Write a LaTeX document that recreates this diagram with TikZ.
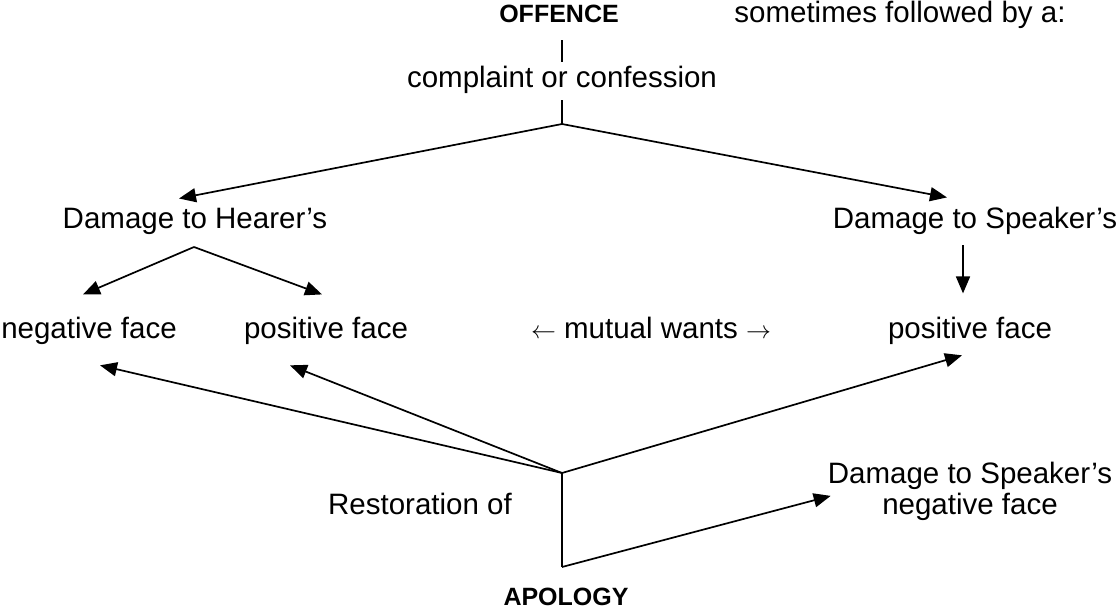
\documentclass[tikz,border=0pt]{standalone}
\usepackage{fontspec}
\setmainfont{Liberation Sans}
\usetikzlibrary{arrows.meta,calc}
\begin{document}
\begin{tikzpicture}[x=1pt,y=-1pt,
  lbl/.style={inner sep=0pt, anchor=base, font=\fontsize{29.5}{31}\selectfont},
  boldlbl/.style={lbl, font=\fontsize{25}{30}\selectfont\bfseries},
  conn/.style={line width=1.7pt},
  arr/.style={conn, -{Triangle[length=17pt,width=14pt]}},
]
\useasboundingbox (0,0) rectangle (1118,610);

% labels
\node[boldlbl] (offence) at (559,23) {OFFENCE};
\node[lbl] (follow) at (900,23) {sometimes followed by a:};
\node[lbl] (complaint) at (562,87) {complaint or confession};
\node[lbl] (dh) at (195,228) {Damage to Hearer’s};
\node[lbl] (ds) at (975,228) {Damage to Speaker’s};
\node[lbl] (hneg) at (89,338) {negative face};
\node[lbl] (hpos) at (326,338) {positive face};
\node[lbl] (mutual) at (651,338) {$\leftarrow$ mutual wants $\rightarrow$};
\node[lbl] (spos) at (970,338) {positive face};
\node[lbl] (rest) at (420,514) {Restoration of};
\node[lbl, align=center] (dsneg) at (970,514) {Damage to Speaker’s\\negative face};
\node[boldlbl] (apology) at (566,605) {APOLOGY};

% junctions
\coordinate (j1) at (562,124);
\coordinate (j2) at (194,247);
\coordinate (j3) at (562,473);
\coordinate (j4) at (562,567);

% offence -> complaint
\draw[conn] ($(offence.south)+(3,17)$) -- ($(complaint.north)+(0,-3)$);
% complaint -> branches
\draw[conn] ($(complaint.south)+(0,7)$) -- (j1);
\draw[arr] (j1) -- ($(dh.north)+(-16,-9)$);
\draw[arr] (j1) -- ($(ds.north)+(-28,-9)$);
% hearer branch
\draw[arr] (j2) -- ($(hneg.north)+(-6,-22)$);
\draw[arr] (j2) -- ($(hpos.north)+(-4,-22)$);
% speaker
\draw[arr] ($(ds.south)+(-12,11)$) -- ($(spos.north)+(-7,-23)$);
% apology
\draw[arr] (j3) -- ($(hneg.south)+(11,21)$);
\draw[arr] (j3) -- ($(hpos.south)+(-36,21)$);
\draw[arr] (j3) -- ($(spos.south)+(-8,11)$);
\draw[conn] (j3) -- (j4);
\draw[arr] (j4) -- ($(dsneg.west)+(3,5)$);
\end{tikzpicture}
\end{document}
